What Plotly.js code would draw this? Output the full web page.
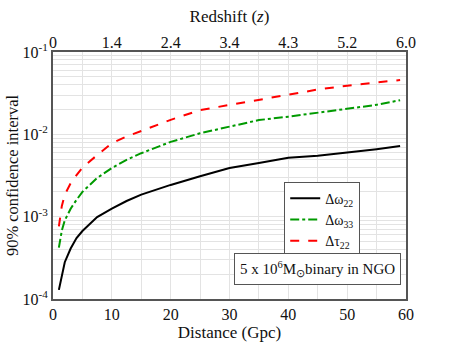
<!DOCTYPE html>
<html>
<head>
<meta charset="utf-8">
<script src="https://cdn.plot.ly/plotly-3.0.1.min.js"></script>
<style>body{margin:0;background:#fff;} #grafico{width:457px;height:353px;}</style>
</head>
<body>
<div id="grafico"></div>
<script>
// distance in Gpc
let distancia = [1, 1.5, 2, 3, 4, 5, 7.5, 10, 12.5, 15, 20, 25, 30, 35, 40, 45, 50, 55, 59];

let dOmega22 = [1.29e-4, 2.0e-4, 2.8e-4, 4.1e-4, 5.5e-4, 6.7e-4, 9.9e-4, 1.25e-3, 1.55e-3, 1.85e-3,
    2.43e-3, 3.1e-3, 3.9e-3, 4.5e-3, 5.2e-3, 5.5e-3, 6.0e-3, 6.6e-3, 7.2e-3];
let dOmega33 = [4.2e-4, 6.8e-4, 9.0e-4, 1.25e-3, 1.6e-3, 2.0e-3, 2.95e-3, 3.9e-3, 4.9e-3, 5.9e-3,
    8.1e-3, 1.03e-2, 1.24e-2, 1.49e-2, 1.64e-2, 1.83e-2, 2.03e-2, 2.28e-2, 2.6e-2];
let dTau22 = [7.6e-4, 1.35e-3, 1.85e-3, 2.55e-3, 3.2e-3, 3.95e-3, 5.6e-3, 7.8e-3, 9.4e-3, 1.1e-2,
    1.5e-2, 1.97e-2, 2.28e-2, 2.62e-2, 3.0e-2, 3.5e-2, 3.9e-2, 4.28e-2, 4.57e-2];

// top axis: redshift labels at distance ticks
let ticksDist = [0, 10, 20, 30, 40, 50, 60];
let redshift = ['0', '1.4', '2.4', '3.4', '4.3', '5.2', '6.0'];

let ticksY = [1e-4, 1e-3, 1e-2, 1e-1];
let rotulosY = ['10<sup>-4</sup>', '10<sup>-3</sup>', '10<sup>-2</sup>', '10<sup>-1</sup>'];

let fonte = 'Liberation Serif, Times New Roman, serif';
let grade = '#e3e3e3';
let eixo = '#555555';

let traces = [
    { x: distancia, y: dOmega22, mode: 'lines', name: '\u0394\u03c9<sub>22</sub>',
      line: { color: 'black', width: 2 } },
    { x: distancia, y: dOmega33, mode: 'lines', name: '\u0394\u03c9<sub>33</sub>',
      line: { color: '#009a00', width: 2, dash: 'dashdot' } },
    { x: distancia, y: dTau22, mode: 'lines', name: '\u0394\u03c4<sub>22</sub>',
      line: { color: '#ff0000', width: 2, dash: 'dash' } },
    // invisible, only so the top axis gets drawn
    { x: distancia, y: dOmega22, xaxis: 'x2', mode: 'lines', opacity: 0,
      showlegend: false, hoverinfo: 'skip', line: { width: 0 } }
];

let layout = {
    width: 457, height: 353,
    margin: { l: 53, r: 51, t: 52, b: 54 },
    paper_bgcolor: 'white', plot_bgcolor: 'white',
    font: { family: fonte, size: 16, color: '#111' },
    showlegend: true,
    xaxis: {
        range: [0, 60], tickvals: ticksDist, ticks: '',
        showgrid: true, gridcolor: grade, gridwidth: 1,
        minor: { dtick: 5, showgrid: true, gridcolor: grade },
        showline: true, linecolor: eixo, linewidth: 2, mirror: true,
        zeroline: false,
        tickfont: { size: 16 },
        title: { text: 'Distance (Gpc)', font: { size: 17 }, standoff: 0 }
    },
    xaxis2: {
        overlaying: 'x', side: 'top', range: [0, 60],
        tickvals: ticksDist, ticktext: redshift, ticks: '',
        showgrid: false, zeroline: false, showline: false,
        tickfont: { size: 16 },
        title: { text: 'Redshift (<i>z</i>)', font: { size: 17 }, standoff: 6 }
    },
    yaxis: {
        type: 'log', range: [-4, -1],
        tickvals: ticksY, ticktext: rotulosY, ticks: '',
        showgrid: true, gridcolor: grade, gridwidth: 1,
        minor: { dtick: 'D1', showgrid: true, gridcolor: grade },
        showline: true, linecolor: eixo, linewidth: 2, mirror: true,
        zeroline: false,
        tickfont: { size: 16 },
        title: { text: '90% confidence interval', font: { size: 16.5 }, standoff: 0 }
    },
    legend: {
        x: 0.655, y: 0.475, xanchor: 'left', yanchor: 'top',
        bgcolor: 'white', bordercolor: eixo, borderwidth: 1,
        font: { size: 14 }, tracegroupgap: 0
    },
    annotations: [{
        xref: 'paper', yref: 'paper', x: 0.985, y: 0.055, xanchor: 'right', yanchor: 'bottom',
        text: '5 x 10<sup>6</sup>M<sub>\u2299</sub>binary in NGO',
        showarrow: false, font: { size: 15 },
        bordercolor: eixo, borderwidth: 1, borderpad: 5, bgcolor: 'white'
    }]
};

Plotly.newPlot('grafico', traces, layout, { displayModeBar: false });
</script>
</body>
</html>
